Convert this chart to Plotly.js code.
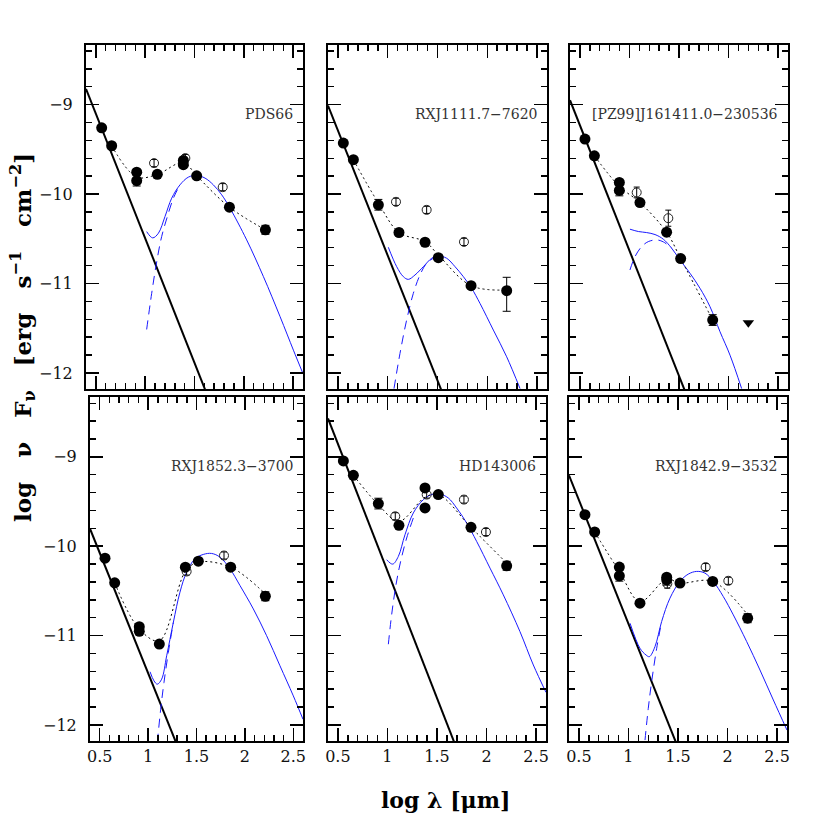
<!DOCTYPE html>
<html>
<head>
<meta charset="utf-8">
<script src="https://cdn.plot.ly/plotly-3.0.1.min.js"></script>
<style>
  body { margin: 0; background: #fff; }
  #plotArea { width: 830px; height: 830px; }
</style>
</head>
<body>
<div id="plotArea"></div>
<script>
// one entry per panel, left to right, top row first
var names = ["PDS66", "RXJ1111.7\u22127620", "[PZ99]J161411.0\u2212230536",
             "RXJ1852.3\u22123700", "HD143006", "RXJ1842.9\u22123532"];

// detections (filled circles)
var filledX = [
    [0.559, 0.660, 0.914, 0.914, 1.123, 1.387, 1.387, 1.522, 1.854, 2.219],
    [0.554, 0.655, 0.906, 1.113, 1.375, 1.508, 1.837, 2.195],
    [0.551, 0.646, 0.898, 0.898, 1.106, 1.375, 1.517, 1.840],
    [0.555, 0.655, 0.909, 0.909, 1.116, 1.385, 1.519, 1.853, 2.211],
    [0.555, 0.656, 0.908, 1.116, 1.379, 1.379, 1.513, 1.843, 2.203],
    [0.561, 0.659, 0.908, 0.908, 1.116, 1.386, 1.386, 1.520, 1.850, 2.203]
];
var filledY = [
    [-9.26, -9.46, -9.755, -9.85, -9.78, -9.624, -9.672, -9.796, -10.147, -10.40],
    [-9.43, -9.616, -10.12, -10.43, -10.539, -10.711, -11.025, -11.081],
    [-9.385, -9.572, -9.87, -9.96, -10.095, -10.427, -10.722, -11.409],
    [-10.134, -10.41, -10.90, -10.953, -11.095, -10.235, -10.167, -10.235, -10.56],
    [-9.045, -9.206, -9.523, -9.766, -9.348, -9.572, -9.422, -9.789, -10.219],
    [-9.647, -9.841, -10.234, -10.331, -10.637, -10.346, -10.376, -10.413, -10.394, -10.806]
];
var filledErrUp = [
    [0, 0, 0.03, 0.06, 0, 0, 0, 0, 0, 0.05],
    [0, 0, 0.06, 0, 0, 0, 0, 0.15],
    [0, 0, 0, 0.06, 0, 0.03, 0, 0.06],
    [0, 0, 0, 0.03, 0, 0.03, 0, 0, 0.05],
    [0, 0, 0.06, 0, 0, 0, 0, 0, 0.05],
    [0, 0, 0, 0.06, 0, 0, 0.06, 0, 0, 0.05]
];
var filledErrDn = [
    [0, 0, 0.03, 0.06, 0, 0, 0, 0, 0, 0.05],
    [0, 0, 0.06, 0, 0, 0, 0, 0.23],
    [0, 0, 0, 0.06, 0, 0.03, 0, 0.06],
    [0, 0, 0, 0.03, 0, 0.03, 0, 0, 0.05],
    [0, 0, 0.06, 0, 0, 0, 0, 0, 0.05],
    [0, 0, 0, 0.06, 0, 0, 0.06, 0, 0, 0.05]
];

// IRAS fluxes (open circles)
var openX = [
    [1.090, 1.407, 1.786],
    [1.083, 1.391, 1.766],
    [1.073, 1.392],
    [1.398, 1.784],
    [1.079, 1.396, 1.772, 1.994],
    [1.392, 1.779, 2.008]
];
var openY = [
    [-9.654, -9.598, -9.923],
    [-10.087, -10.177, -10.535],
    [-9.982, -10.27],
    [-10.283, -10.104],
    [-9.665, -9.422, -9.478, -9.841],
    [-10.42, -10.234, -10.387]
];
var openErr = [
    [0.04, 0.04, 0.04],
    [0.04, 0.04, 0.04],
    [0.06, 0.09],
    [0.04, 0.04],
    [0.04, 0.04, 0.04, 0.04],
    [0.05, 0.04, 0.04]
];

// upper limits (only the third panel)
var limitX = [[], [], [2.2], [], [], []];
var limitY = [[], [], [-11.44], [], [], []];

// stellar photosphere
var starX = [[0.4, 1.648], [0.4, 1.577], [0.4, 1.595], [0.4, 1.327], [0.4, 1.711], [0.4, 1.517]];
var starY = [[-8.824, -12.3], [-9.011, -12.3], [-8.951, -12.3], [-9.804, -12.3], [-8.57, -12.3], [-9.206, -12.3]];

// dotted line joining the observed points
var dotX = [
    [0.660, 0.914, 1.123, 1.387, 1.522, 1.854, 2.219],
    [0.655, 0.906, 1.113, 1.375, 1.508, 1.837, 2.195],
    [0.646, 0.898, 1.106, 1.375, 1.517, 1.840],
    [0.655, 0.909, 1.116, 1.385, 1.519, 1.853, 2.211],
    [0.656, 0.908, 1.116, 1.379, 1.513, 1.843, 2.203],
    [0.659, 0.908, 1.116, 1.386, 1.520, 1.850, 2.203]
];
var dotY = [
    [-9.46, -9.81, -9.78, -9.646, -9.796, -10.147, -10.40],
    [-9.616, -10.10, -10.43, -10.532, -10.681, -11.025, -11.073],
    [-9.572, -9.915, -10.095, -10.427, -10.722, -11.409],
    [-10.41, -10.927, -11.058, -10.283, -10.178, -10.235, -10.534],
    [-9.206, -9.535, -9.721, -9.452, -9.422, -9.789, -10.189],
    [-9.841, -10.282, -10.619, -10.368, -10.413, -10.394, -10.768]
];

// disk model (blue dashed)
var diskX = [
    [1.015, 1.066, 1.117, 1.167, 1.225, 1.286, 1.353],
    [1.063, 1.123, 1.190, 1.257, 1.324, 1.391, 1.475],
    [1.005, 1.056, 1.123, 1.190, 1.275, 1.342, 1.426],
    [1.095, 1.130, 1.164, 1.209, 1.261],
    [1.009, 1.042, 1.086, 1.133, 1.194, 1.261],
    [1.167, 1.200, 1.234, 1.285, 1.335]
];
var diskY = [
    [-11.514, -11.11, -10.756, -10.476, -10.251, -10.046, -9.897],
    [-12.175, -11.783, -11.409, -11.111, -10.905, -10.774, -10.707],
    [-10.849, -10.70, -10.588, -10.532, -10.513, -10.535, -10.606],
    [-12.2, -11.825, -11.525, -11.189, -10.852],
    [-11.097, -10.768, -10.432, -10.17, -9.908, -9.684],
    [-12.17, -11.815, -11.516, -11.142, -10.843]
];

// star + disk (blue solid)
var totalX = [
    [1.015, 1.076, 1.134, 1.201, 1.269, 1.353, 1.438, 1.522, 1.607, 1.691, 1.776, 1.860, 2.029, 2.199, 2.368, 2.503, 2.597],
    [1.006, 1.090, 1.157, 1.207, 1.274, 1.358, 1.442, 1.508, 1.592, 1.676, 1.760, 1.843, 1.927, 2.061, 2.195, 2.329],
    [1.005, 1.090, 1.174, 1.258, 1.342, 1.426, 1.510, 1.611, 1.712, 1.813, 1.914, 2.015, 2.132],
    [1.020, 1.061, 1.095, 1.140, 1.192, 1.261, 1.329, 1.398, 1.484, 1.570, 1.656, 1.742, 1.846, 1.949, 2.087, 2.224, 2.362, 2.500, 2.600],
    [0.992, 1.053, 1.110, 1.177, 1.261, 1.362, 1.463, 1.530, 1.614, 1.698, 1.799, 1.900, 2.035, 2.169, 2.337, 2.472, 2.600],
    [1.016, 1.116, 1.177, 1.211, 1.268, 1.335, 1.419, 1.520, 1.604, 1.688, 1.772, 1.856, 1.957, 2.058, 2.193, 2.327, 2.462, 2.600]
];
var totalY = [
    [-10.42, -10.49, -10.438, -10.251, -10.046, -9.897, -9.811, -9.792, -9.822, -9.897, -10.009, -10.158, -10.513, -10.924, -11.372, -11.746, -12.0],
    [-10.595, -10.812, -10.924, -10.954, -10.905, -10.812, -10.718, -10.692, -10.718, -10.812, -10.924, -11.054, -11.223, -11.521, -11.82, -12.175],
    [-10.393, -10.419, -10.431, -10.453, -10.505, -10.606, -10.737, -10.886, -11.054, -11.26, -11.54, -11.802, -12.175],
    [-11.405, -11.507, -11.544, -11.488, -11.226, -10.852, -10.515, -10.291, -10.141, -10.092, -10.081, -10.122, -10.253, -10.44, -10.702, -11.001, -11.338, -11.675, -11.937],
    [-10.151, -10.2, -10.114, -9.871, -9.628, -9.479, -9.415, -9.415, -9.46, -9.572, -9.74, -9.946, -10.245, -10.544, -10.955, -11.329, -11.636],
    [-10.862, -11.142, -11.217, -11.236, -11.123, -10.843, -10.581, -10.394, -10.312, -10.282, -10.301, -10.394, -10.563, -10.768, -11.067, -11.385, -11.721, -12.058]
];

// panel frames in pixels [left, right, top, bottom]
var W = 830, H = 830;
var frames = [
    [86, 303, 44.7, 389], [328, 547, 44.7, 389], [570, 788, 44.7, 389],
    [90, 303, 397, 741], [328, 546, 397, 741], [569, 787, 397, 741]
];

var serif = "DejaVu Serif";
var data = [];
var layout = {
    width: W, height: H,
    margin: {l: 0, r: 0, t: 0, b: 0},
    paper_bgcolor: "white", plot_bgcolor: "white",
    showlegend: false,
    annotations: []
};

names.forEach(function(name, i) {
    var n = i === 0 ? "" : String(i + 1);
    var xa = "x" + n, ya = "y" + n;
    var f = frames[i];

    layout["xaxis" + n] = {
        domain: [f[0] / W, f[1] / W],
        anchor: ya,
        range: [0.4, 2.6],
        tick0: 0, dtick: 0.5,
        ticks: "inside", ticklen: 13, tickwidth: 1.5, tickcolor: "black",
        minor: {dtick: 0.1, ticklen: 6, tickwidth: 1.5, ticks: "inside", tickcolor: "black"},
        showline: true, linewidth: 2, linecolor: "black", mirror: "allticks",
        showgrid: false, zeroline: false,
        showticklabels: i >= 3,
        tickfont: {family: serif, size: 16, color: "#111"}
    };
    layout["yaxis" + n] = {
        domain: [1 - f[3] / H, 1 - f[2] / H],
        anchor: xa,
        range: [-12.18, -8.33],
        tick0: 0, dtick: 1,
        ticks: "inside", ticklen: 13, tickwidth: 1.5, tickcolor: "black",
        minor: {dtick: 0.2, ticklen: 6, tickwidth: 1.5, ticks: "inside", tickcolor: "black"},
        showline: true, linewidth: 2, linecolor: "black", mirror: "allticks",
        showgrid: false, zeroline: false,
        showticklabels: i % 3 === 0,
        ticklabelstandoff: 8,
        tickfont: {family: serif, size: 16, color: "#111"}
    };

    data.push({x: starX[i], y: starY[i], xaxis: xa, yaxis: ya, mode: "lines",
               line: {color: "black", width: 2}});
    data.push({x: diskX[i], y: diskY[i], xaxis: xa, yaxis: ya, mode: "lines",
               line: {color: "#1a1aff", width: 1, dash: "9px,6px", shape: "spline"}});
    data.push({x: totalX[i], y: totalY[i], xaxis: xa, yaxis: ya, mode: "lines",
               line: {color: "#1a1aff", width: 1, shape: "spline"}});
    data.push({x: dotX[i], y: dotY[i], xaxis: xa, yaxis: ya, mode: "lines",
               line: {color: "black", width: 1, dash: "2px,3px", shape: "spline"}});
    data.push({x: openX[i], y: openY[i], xaxis: xa, yaxis: ya, mode: "markers",
               marker: {symbol: "circle-open", size: 9, color: "#222", line: {width: 1}},
               error_y: {type: "data", array: openErr[i], color: "black", thickness: 1, width: 3}});
    data.push({x: filledX[i], y: filledY[i], xaxis: xa, yaxis: ya, mode: "markers",
               marker: {symbol: "circle", size: 11, color: "black"},
               error_y: {type: "data", symmetric: false, array: filledErrUp[i],
                         arrayminus: filledErrDn[i], color: "black", thickness: 1, width: 4}});
    if (limitX[i].length) {
        data.push({x: limitX[i], y: limitY[i], xaxis: xa, yaxis: ya, mode: "markers",
                   marker: {symbol: "triangle-down", size: 10, color: "black"}});
    }

    layout.annotations.push({
        text: name, xref: xa, yref: ya, x: 2.52, y: -9.1,
        xanchor: "right", yanchor: "middle", showarrow: false,
        font: {family: serif, size: 14, color: "#333"}
    });
});

var gap = "\u00a0\u00a0\u00a0";
layout.annotations.push({
    text: "<b>log" + gap + "\u03bd" + gap + "F<sub>\u03bd</sub>" + gap + "[erg" + gap +
          "s<sup>\u22121</sup>" + gap + "cm<sup>\u22122</sup>]</b>",
    xref: "paper", yref: "paper", x: 22 / W, y: 1 - 338 / H,
    xanchor: "center", yanchor: "middle", textangle: -90, showarrow: false,
    font: {family: serif, size: 23, color: "black"}
});
layout.annotations.push({
    text: "<b>log\u00a0\u03bb\u00a0[\u03bcm]</b>",
    xref: "paper", yref: "paper", x: 445 / W, y: 1 - 800 / H,
    xanchor: "center", yanchor: "middle", showarrow: false,
    font: {family: serif, size: 22, color: "black"}
});

Plotly.newPlot("plotArea", data, layout, {displayModeBar: false, staticPlot: true});
</script>
</body>
</html>
